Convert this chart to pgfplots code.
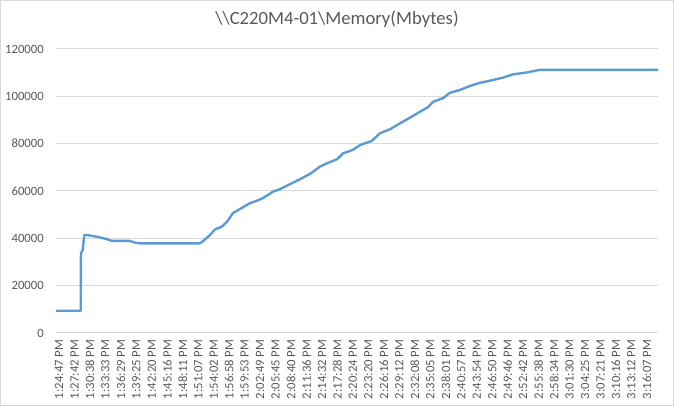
\documentclass[border=0pt]{standalone}
\usepackage{pgfplots}
\pgfplotsset{compat=1.18}
\usepackage{fontspec}
\setmainfont{Carlito}
\definecolor{lineblue}{HTML}{5B9BD5}
\definecolor{gridgray}{HTML}{D9D9D9}
\definecolor{txtgray}{HTML}{595959}
\begin{document}
\begin{tikzpicture}
\begin{axis}[
  scale only axis,
  width=451.5pt, height=213pt,
  xmin=-0.194, xmax=38.72,
  ymin=0, ymax=120000,
  ytick={0,20000,40000,60000,80000,100000,120000},
  yticklabels={0,20000,40000,60000,80000,100000,120000},
  scaled y ticks=false,
  xtick={0,...,38},
  xticklabels={1:24:47 PM,1:27:42 PM,1:30:38 PM,1:33:33 PM,1:36:29 PM,1:39:25 PM,1:42:20 PM,1:45:16 PM,1:48:11 PM,1:51:07 PM,1:54:02 PM,1:56:58 PM,1:59:53 PM,2:02:49 PM,2:05:45 PM,2:08:40 PM,2:11:36 PM,2:14:32 PM,2:17:28 PM,2:20:24 PM,2:23:20 PM,2:26:16 PM,2:29:12 PM,2:32:08 PM,2:35:05 PM,2:38:01 PM,2:40:57 PM,2:43:54 PM,2:46:50 PM,2:49:46 PM,2:52:42 PM,2:55:38 PM,2:58:34 PM,3:01:30 PM,3:04:25 PM,3:07:21 PM,3:10:16 PM,3:13:12 PM,3:16:07 PM},
  xticklabel style={rotate=90, anchor=east, inner sep=0pt, font=\fontsize{9.5}{10}\selectfont, text=txtgray},
  yticklabel style={anchor=east, inner sep=0pt, font=\fontsize{9.5}{10}\selectfont, text=txtgray},
  xticklabel shift=5pt,
  yticklabel shift=9pt,
  major tick length=0pt,
  ymajorgrids,
  grid style={gridgray, line width=0.75pt},
  axis line style={draw=none},
  axis x line*=bottom,
  axis y line*=left,
]
\addplot[lineblue, line width=1.8pt, line join=round] coordinates {
(-0.194,9400) (1.403,9400) (1.42,33700) (1.53,35000) (1.635,41400) (1.79,41400)
(2.437,40700) (3.08,39700) (3.41,38900) (4.59,38900) (4.91,38200) (5.24,37900)
(9.11,37900) (9.33,38900) (9.76,41400) (10.09,43800) (10.52,44900) (10.86,47000)
(11.25,50700) (11.70,52400) (12.35,54900) (12.80,55900) (13.19,57000) (13.83,59700)
(14.29,60800) (14.93,62900) (15.58,65000) (16.22,67200) (16.87,70300) (17.32,71700)
(17.97,73400) (18.36,75900) (19.00,77400) (19.46,79400) (20.23,81200) (20.75,84400)
(21.40,86100) (22.04,88600) (22.69,91000) (23.34,93500) (23.85,95400) (24.18,97700)
(24.82,99200) (25.27,101500) (25.92,102700) (26.57,104400) (27.21,105700) (27.86,106600)
(28.70,107900) (29.35,109300) (30.25,110100) (31.09,111200) (38.72,111200)
};
\end{axis}
\node[font=\fontsize{14}{16}\selectfont, text=txtgray] at ([xshift=-15pt,yshift=22.3pt]current axis.north) {\textbackslash\textbackslash C220M4-01\textbackslash Memory(Mbytes)};
\path[use as bounding box] ([shift={(-42pt,-54.75pt)}]current axis.south west) rectangle ([shift={(12pt,36.75pt)}]current axis.north east);
\draw[gridgray, line width=0.75pt] ([shift={(-41.6pt,-54.35pt)}]current axis.south west) rectangle ([shift={(11.6pt,36.35pt)}]current axis.north east);
\end{tikzpicture}
\end{document}
